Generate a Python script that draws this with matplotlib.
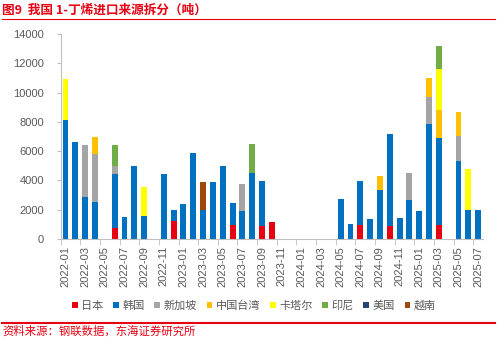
import numpy as np
import matplotlib.pyplot as plt

plt.rcParams['font.family'] = ['Noto Sans CJK SC', 'DejaVu Sans']

months = [f"{y}-{m:02d}" for y in (2022, 2023, 2024, 2025) for m in range(1, 13)][:43]

# tonnes
japan = [0, 0, 0, 0, 0, 770, 0, 0, 0, 0, 0, 1230,
         0, 0, 0, 0, 0, 960, 0, 0, 910, 1180, 0, 0,
         0, 0, 0, 0, 0, 0, 960, 0, 0, 910, 0, 0,
         0, 0, 980, 0, 0, 0, 0]
korea = [8100, 6600, 2900, 2500, 0, 3670, 1480, 4960, 1600, 0, 4440, 730,
         2410, 5870, 2000, 3870, 4990, 1480, 1910, 4530, 3050, 0, 0, 0,
         0, 0, 0, 0, 2730, 1030, 3020, 1340, 3350, 6280, 1460, 2660,
         1890, 7850, 5940, 0, 5330, 1960, 1990]
singapore = [0, 0, 3550, 3330, 0, 520, 0, 0, 0, 0, 0, 0,
             0, 0, 0, 0, 0, 0, 1820, 0, 0, 0, 0, 0,
             0, 0, 0, 0, 0, 0, 0, 0, 0, 0, 0, 1820,
             0, 1870, 0, 0, 1730, 0, 0]
taiwan = [0, 0, 0, 1150, 0, 0, 0, 0, 0, 0, 0, 0,
          0, 0, 0, 0, 0, 0, 0, 0, 0, 0, 0, 0,
          0, 0, 0, 0, 0, 0, 0, 0, 950, 0, 0, 0,
          0, 1300, 1890, 0, 1640, 0, 0]
qatar = [2800, 0, 0, 0, 0, 0, 0, 0, 1950, 0, 0, 0,
         0, 0, 0, 0, 0, 0, 0, 0, 0, 0, 0, 0,
         0, 0, 0, 0, 0, 0, 0, 0, 0, 0, 0, 0,
         0, 0, 2840, 0, 0, 2800, 0]
indonesia = [0, 0, 0, 0, 0, 1460, 0, 0, 0, 0, 0, 0,
             0, 0, 0, 0, 0, 0, 0, 1940, 0, 0, 0, 0,
             0, 0, 0, 0, 0, 0, 0, 0, 0, 0, 0, 0,
             0, 0, 1530, 0, 0, 0, 0]
usa = [0] * 43
vietnam = [0, 0, 0, 0, 0, 0, 0, 0, 0, 0, 0, 0,
           0, 0, 1890, 0, 0, 0, 0, 0, 0, 0, 0, 0,
           0, 0, 0, 0, 0, 0, 0, 0, 0, 0, 0, 0,
           0, 0, 0, 0, 0, 0, 0]

series = [("日本", japan, "#E60012"),
          ("韩国", korea, "#0070C0"),
          ("新加坡", singapore, "#A5A5A5"),
          ("中国台湾", taiwan, "#FFC000"),
          ("卡塔尔", qatar, "#FFFF00"),
          ("印尼", indonesia, "#70AD47"),
          ("美国", usa, "#264478"),
          ("越南", vietnam, "#9E480E")]

fig = plt.figure(figsize=(4.97, 3.38), dpi=100)
ax = fig.add_axes([0.122, 0.293, 0.85, 0.606])

x = np.arange(len(months))
bottom = np.zeros(len(months))
for name, vals, col in series:
    v = np.array(vals, dtype=float)
    ax.bar(x, v, 0.6, bottom=bottom, color=col, label=name, linewidth=0)
    bottom += v

ax.set_xlim(-0.5, len(months) - 0.5)
ax.set_ylim(0, 14000)
ax.set_yticks(np.arange(0, 14001, 2000))
ax.set_xticks(x[::2])
ax.set_xticklabels(months[::2], rotation=90)
ax.set_xticks(np.arange(-0.5, len(months), 2), minor=True)
for lab in ax.get_xticklabels() + ax.get_yticklabels():
    lab.set_family('Liberation Sans')
ax.tick_params(axis='x', which='major', length=0, labelsize=8, colors='#595959', pad=5)
ax.tick_params(axis='x', which='minor', length=4, color='#BFBFBF')
ax.tick_params(axis='y', length=3, color='#BFBFBF', labelsize=8, colors='#595959', pad=9)
for s in ['top', 'right']:
    ax.spines[s].set_visible(False)
for s in ['left', 'bottom']:
    ax.spines[s].set_color('#BFBFBF')

fig.legend(loc='center', bbox_to_anchor=(0.511, 0.096), ncol=8, frameon=False,
           fontsize=8, handlelength=0.5, handleheight=0.5, handletextpad=0.3,
           columnspacing=0.9, labelcolor='#595959')

fig.text(0.004, 0.97, "图9  我国 1-丁烯进口来源拆分（吨）", color='#E60012',
         fontsize=9.1, fontweight='bold', va='center')
fig.add_artist(plt.Line2D([0.004, 0.996], [0.943, 0.943], color='#E60012', lw=0.8))
fig.add_artist(plt.Line2D([0.004, 0.996], [0.044, 0.044], color='#E60012', lw=1.5))
fig.text(0.004, 0.019, "资料来源：钢联数据，东海证券研究所", color='#E60012',
         fontsize=8.2, va='center')

fig.savefig("out.png", dpi=100)
